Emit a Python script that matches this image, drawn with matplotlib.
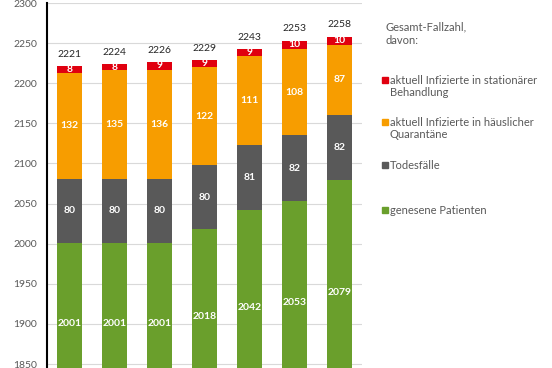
import matplotlib
matplotlib.use('Agg')
import numpy as np
import matplotlib.pyplot as plt
from matplotlib.patches import Rectangle

# -----------------------------
# Data
# -----------------------------
genesen = [2001, 2001, 2001, 2018, 2042, 2053, 2079]
tote = [80, 80, 80, 80, 81, 82, 82]
quarantaene = [132, 135, 136, 122, 111, 108, 87]
stationaer = [8, 8, 9, 9, 9, 10, 10]
gesamt = [2221, 2224, 2226, 2229, 2243, 2253, 2258]

y_ticks = [1850, 1900, 1950, 2000, 2050, 2100, 2150, 2200, 2250, 2300]

legend_labels = [
    "aktuell Infizierte in stationärer\nBehandlung",
    "aktuell Infizierte in häuslicher\nQuarantäne",
    "Todesfälle",
    "genesene Patienten",
]

c_green = '#6a9f2c'
c_grey = '#595959'
c_orange = '#f79d00'
c_red = '#e0000f'

plt.rcParams['font.family'] = ['Lato', 'DejaVu Sans']

W, H = 552, 368
fig = plt.figure(figsize=(W / 100, H / 100), dpi=100)

# axis: 2300 at y=3px, 50 units ~ 40.1px, lower limit 1800 (cropped)
px50 = (364 - 3) / 9
top_px = 3
bot_px = 364 + px50
ax = fig.add_axes([47 / W, (H - bot_px) / H, (362 - 47) / W, (bot_px - top_px) / H])

x = np.arange(len(genesen))
base = 1800
g = np.array(genesen)
t = np.array(tote)
q = np.array(quarantaene)
s = np.array(stationaer)
w = 0.57

ax.bar(x, g - base, bottom=base, width=w, color=c_green, zorder=3)
ax.bar(x, t, bottom=g, width=w, color=c_grey, zorder=3)
ax.bar(x, q, bottom=g + t, width=w, color=c_orange, zorder=3)
ax.bar(x, s, bottom=g + t + q, width=w, color=c_red, zorder=3)

fs = 7.5
for i in range(len(x)):
    ax.text(x[i], (base + g[i]) / 2, str(g[i]), ha='center', va='center',
            color='white', fontsize=fs, fontweight='bold', zorder=4)
    ax.text(x[i], g[i] + t[i] / 2, str(t[i]), ha='center', va='center',
            color='white', fontsize=fs, fontweight='bold', zorder=4)
    ax.text(x[i], g[i] + t[i] + q[i] / 2, str(q[i]), ha='center', va='center',
            color='white', fontsize=fs, fontweight='bold', zorder=4)
    ax.text(x[i], g[i] + t[i] + q[i] + s[i] / 2, str(s[i]), ha='center', va='center',
            color='white', fontsize=fs, fontweight='bold', zorder=4)
    ax.text(x[i], gesamt[i] + 9, str(gesamt[i]), ha='center', va='bottom',
            color='#262626', fontsize=fs, zorder=4)

ax.set_xlim(-0.5, 6.5)
ax.set_ylim(1800, 2300)
ax.set_yticks(y_ticks)
ax.set_xticks([])
ax.tick_params(axis='y', length=0, pad=7, labelsize=fs, labelcolor='#595959')
ax.grid(axis='y', color='#d9d9d9', linewidth=0.8, zorder=0)
for sp in ['top', 'right', 'bottom']:
    ax.spines[sp].set_visible(False)
ax.spines['left'].set_color('black')
ax.spines['left'].set_linewidth(1.5)
ax.spines['left'].set_zorder(5)

# -----------------------------
# Legend (manual, right side)
# -----------------------------
txt = '#595959'
lfs = 8
fig.text(385 / W, 1 - 27 / H, "Gesamt-Fallzahl,", fontsize=lfs, color=txt, va='center')
fig.text(385 / W, 1 - 41 / H, "davon:", fontsize=lfs, color=txt, va='center')

entry_y = [80, 122, 165, 210]
entry_c = [c_red, c_orange, c_grey, c_green]
for lab, yy, cc in zip(legend_labels, entry_y, entry_c):
    fig.patches.append(Rectangle((382 / W, 1 - (yy + 3) / H), 6 / W, 6 / H,
                                 transform=fig.transFigure, color=cc, figure=fig))
    lines = lab.split('\n')
    for k, ln in enumerate(lines):
        fig.text(390 / W, 1 - (yy + 13 * k) / H, ln, fontsize=lfs, color=txt, va='center')

plt.savefig('out.png', dpi=100)
plt.close()
